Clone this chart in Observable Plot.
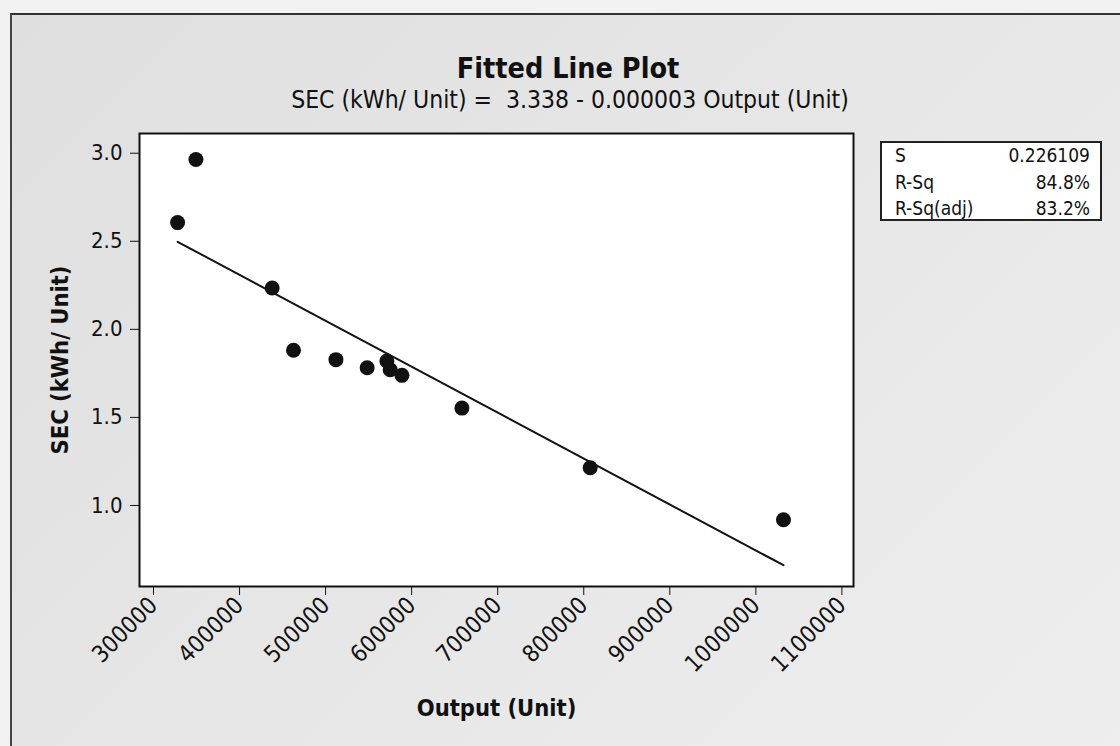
<!DOCTYPE html>
<html><head><meta charset="utf-8">
<script src="https://cdn.jsdelivr.net/npm/d3@7"></script>
<script src="https://cdn.jsdelivr.net/npm/@observablehq/plot@0.6"></script>
<style>
html,body{margin:0;padding:0;}
body{width:1120px;height:746px;overflow:hidden;background:#f2f2f2;position:relative;
  font-family:"DejaVu Sans Condensed","DejaVu Sans",sans-serif;font-stretch:condensed;color:#111;}
#panel{position:absolute;left:10px;top:13px;width:1115px;height:740px;
  background:linear-gradient(135deg,#dfdfdf 0%,#e6e6e6 45%,#eeeeee 100%);
  border-top:2px solid #333;border-left:2px solid #444;}
#chart{position:absolute;left:0;top:0;}
#title{position:absolute;left:0;width:1136px;top:53px;text-align:center;font-weight:bold;font-size:28.5px;line-height:32px;}
#subtitle{position:absolute;left:0;width:1140px;top:86px;text-align:center;font-size:24.5px;line-height:28px;white-space:pre;}
#stats{position:absolute;left:880px;top:141px;width:222px;height:80px;background:#fff;border:2px solid #222;box-sizing:border-box;
  font-size:19px;}
#stats .row{position:absolute;left:13px;right:10px;height:24px;line-height:24px;}
#stats .row span.v{position:absolute;right:0;}
svg g[aria-label$="axis label"] text{font-weight:bold;font-size:23.5px;}
svg g[aria-label="x-axis tick label"] text{font-size:23.5px;}
svg g[aria-label="y-axis tick label"] text{font-size:22px;}
</style></head>
<body>
<div id="panel"></div>
<div id="chart"></div>
<div id="title"></div>
<div id="subtitle"></div>
<div id="stats"></div>
<script>
// Data
const outputUnit = [328000, 349300, 437900, 462700, 512000, 548300, 571200, 575100, 588700, 658400, 807500, 1032100];
const secKwh     = [2.606, 2.964, 2.235, 1.881, 1.828, 1.782, 1.820, 1.771, 1.739, 1.553, 1.214, 0.919];
const xTicks = [300000, 400000, 500000, 600000, 700000, 800000, 900000, 1000000, 1100000];
const yTicks = [1.0, 1.5, 2.0, 2.5, 3.0];
const statLabels = ["S", "R-Sq", "R-Sq(adj)"];
const statValues = ["0.226109", "84.8%", "83.2%"];
const titleText = "Fitted Line Plot";
const subtitleText = "SEC (kWh/ Unit) =  3.338 - 0.000003 Output (Unit)";
const xLabel = "Output (Unit)";
const yLabel = "SEC (kWh/ Unit)";

const data = outputUnit.map((x, i) => ({x, y: secKwh[i]}));

document.getElementById("title").textContent = titleText;
document.getElementById("subtitle").textContent = subtitleText;
const stats = document.getElementById("stats");
statLabels.forEach((l, i) => {
  const r = document.createElement("div");
  r.className = "row";
  r.style.top = (0 + i * 26.5) + "px";
  const a = document.createElement("span"); a.textContent = l;
  const b = document.createElement("span"); b.className = "v"; b.textContent = statValues[i];
  r.append(a, b); stats.append(r);
});

const fontFam = '"DejaVu Sans Condensed","DejaVu Sans",sans-serif';
const chart = Plot.plot({
  width: 1120, height: 746,
  marginLeft: 139, marginRight: 267, marginTop: 133, marginBottom: 160,
  style: {background: "none", fontFamily: fontFam, fontSize: "22px", color: "#111", fontStretch: "condensed"},
  x: {domain: [283730, 1113480], ticks: xTicks, tickFormat: d => String(d), tickRotate: -45,
      tickSize: 9, tickPadding: 6, label: xLabel, labelAnchor: "center", labelOffset: 129, labelArrow: "none"},
  y: {domain: [0.54, 3.112], ticks: yTicks, tickFormat: d => d.toFixed(1),
      tickSize: 9, tickPadding: 8, label: yLabel, labelAnchor: "center", labelOffset: 88, labelArrow: "none"},
  marks: [
    Plot.frame({fill: "white", stroke: "none"}),
    Plot.linearRegressionY(data, {x: "x", y: "y", ci: 0, stroke: "#111", strokeWidth: 2}),
    Plot.dot(data, {x: "x", y: "y", r: 7.5, fill: "#111", stroke: "none"}),
    Plot.frame({stroke: "#111", strokeWidth: 2})
  ]
});
document.getElementById("chart").append(chart);
</script>
</body></html>
